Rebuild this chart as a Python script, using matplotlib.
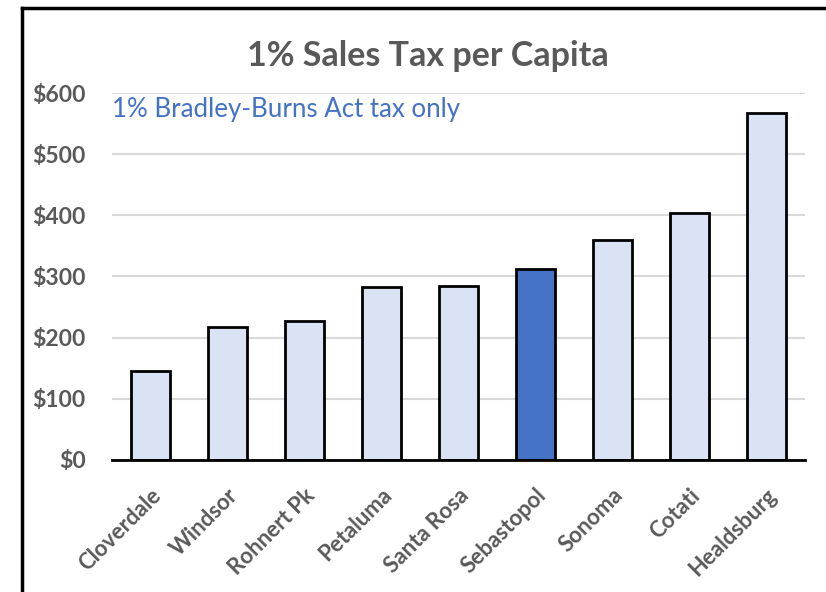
import numpy as np
import matplotlib.pyplot as plt
import matplotlib.transforms as mtransforms
from matplotlib.lines import Line2D

# data
cities = ['Cloverdale', 'Windsor', 'Rohnert Pk', 'Petaluma', 'Santa Rosa',
          'Sebastopol', 'Sonoma', 'Cotati', 'Healdsburg']
tax_per_capita = [145, 217, 228, 283, 285, 313, 359, 404, 567]
highlight = 'Sebastopol'
yticks = [0, 100, 200, 300, 400, 500, 600]

plt.rcParams['font.family'] = ['Lato', 'DejaVu Sans']

fig = plt.figure(figsize=(8.26, 5.92), dpi=100)
ax = fig.add_axes([0.1356, 0.2230, 0.8390, 0.6199])

colors = ['#4472C4' if c == highlight else '#DAE3F3' for c in cities]
x = np.arange(len(cities))
ax.bar(x, tax_per_capita, width=0.5, color=colors, edgecolor='black',
       linewidth=2, zorder=3)

ax.set_xlim(-0.5, len(cities) - 0.5)
ax.set_ylim(0, 600)
ax.set_yticks(yticks)
ax.set_yticklabels(['$' + str(v) for v in yticks])
ax.yaxis.grid(True, color='#D9D9D9', linewidth=1.5, zorder=0)
ax.set_axisbelow(True)

for s in ['top', 'right', 'left']:
    ax.spines[s].set_visible(False)
ax.spines['bottom'].set_linewidth(2)
ax.spines['bottom'].set_zorder(4)

ax.tick_params(axis='y', length=0, pad=19, labelsize=16.5, labelcolor='#595959')
ax.tick_params(axis='x', length=0, pad=21, labelsize=16, labelcolor='#595959')
for lab in ax.get_yticklabels():
    lab.set_fontweight('bold')

ax.set_xticks(x)
ax.set_xticklabels(cities, rotation=45, ha='right', va='center',
                   rotation_mode='anchor', fontweight='bold')
# nudge rotated labels a little right/down, like Excel places them
shift = mtransforms.ScaledTranslation(5 / 72, -2 / 72, fig.dpi_scale_trans)
for lab in ax.get_xticklabels():
    lab.set_transform(lab.get_transform() + shift)

ax.text(0.0, 0.955, '1% Bradley-Burns Act tax only', transform=ax.transAxes,
        color='#4472C4', fontsize=18.6, va='center', ha='left')

fig.text(0.518, 0.905, '1% Sales Tax per Capita', ha='center', va='center',
         fontsize=24.5, fontweight='bold', color='#595959')

# outer chart border (left and top edges visible in the screenshot)
fig.add_artist(Line2D([0.0266, 0.0266], [0.0, 0.986], color='black',
                      linewidth=2.5, transform=fig.transFigure))
fig.add_artist(Line2D([0.0266, 1.0], [0.986, 0.986], color='black',
                      linewidth=2.5, transform=fig.transFigure))

fig.savefig('out.png', dpi=100)
